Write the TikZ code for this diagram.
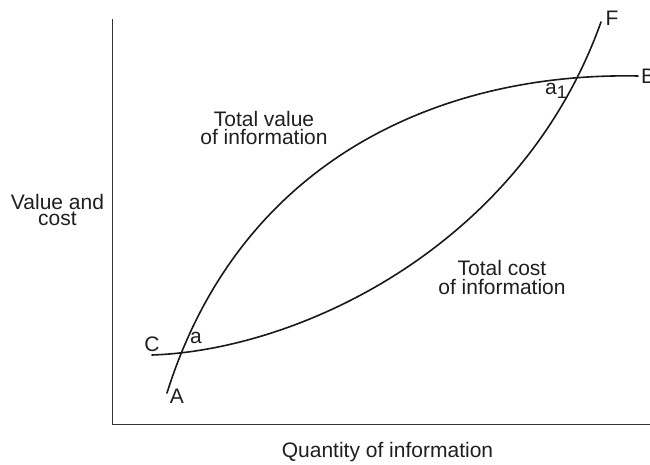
\documentclass[tikz,border=0pt]{standalone}
\usepackage{fontspec}
\setmainfont{Liberation Sans}
\begin{document}
\begin{tikzpicture}[x=1pt,y=-1pt,
  lbl/.style={font=\fontsize{21}{17}\selectfont, text=black!88, inner sep=0pt, anchor=base},
  blk/.style={font=\fontsize{21}{18.5}\selectfont, text=black!88, inner sep=0pt, align=center},
  curve/.style={line width=1.6pt, black!90, line cap=round},
  axis/.style={line width=0.9pt, black!80}]
\useasboundingbox (0,0) rectangle (650,465);
% axes
\coordinate (top) at (112.5,19);
\coordinate (org) at (112.5,424);
\coordinate (right) at (650,424);
\draw[axis] (top) -- (org) -- (right);
% total value curve A -> B
\coordinate (pA) at (167,393);
\coordinate (pB) at (638,76);
\draw[curve] (pA) .. controls (240,160) and (440,72) .. (pB);
% total cost curve C -> F
\coordinate (pC) at (152,355);
\coordinate (pF) at (601,22);
\draw[curve] (pC) .. controls (300,350) and (521,246) .. (pF);
% point labels
\node[lbl] (F) at (612,26) {F};
\node[lbl, anchor=base west] (B) at (641,84) {B};
\node[lbl, anchor=base west] (a1) at (545,95) {a\raisebox{-4pt}{\fontsize{18}{18}\selectfont 1}};
\node[lbl] (C) at (152,351) {C};
\node[lbl] (a) at (196,343) {a};
\node[lbl] (A) at (177,403) {A};
% curve labels (base anchor = baseline of last line)
\node[blk, anchor=base] (tv) at (264,145) {Total value\\of information};
\node[blk, anchor=base] (tc) at (502,294) {Total cost\\of information};
\node[blk, anchor=base, font=\fontsize{21}{16}\selectfont] (vc) at (57.5,225) {Value and\\cost};
\node[lbl] (q) at (387.5,457) {Quantity of information};
\end{tikzpicture}
\end{document}
